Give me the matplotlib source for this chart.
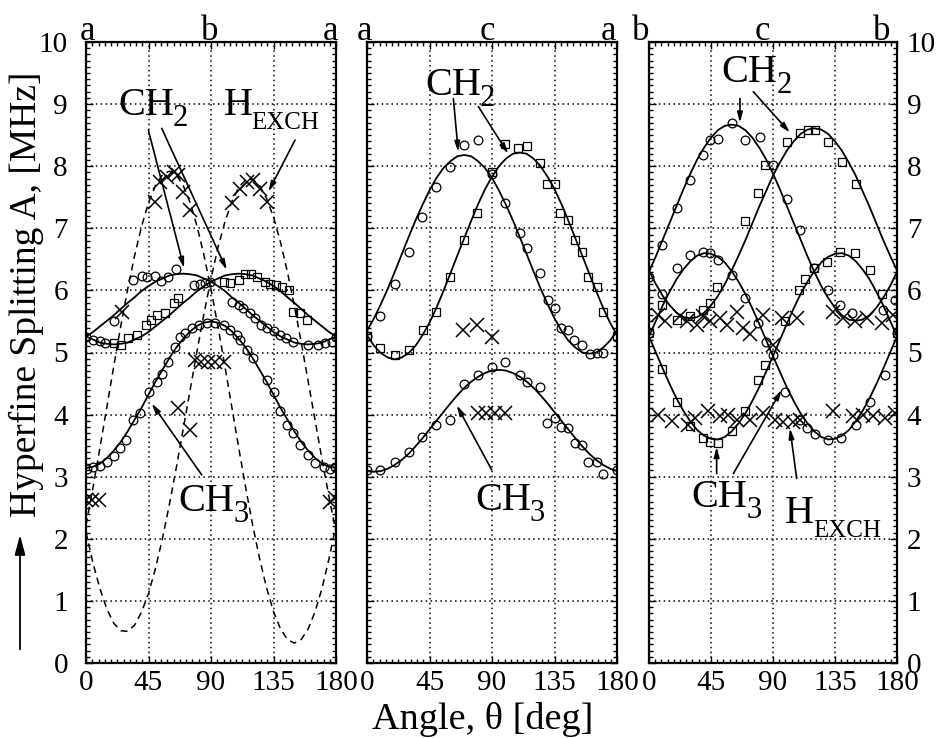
import matplotlib
matplotlib.use("Agg")
import matplotlib.pyplot as plt
from matplotlib.ticker import AutoMinorLocator
from matplotlib.transforms import offset_copy

plt.rcParams['font.family'] = ['Liberation Serif', 'DejaVu Serif']

# ---------------- data ----------------
theta_curve = list(range(0, 181, 5))

# panel 1 (a-b-a)
p1_fit_ch2_a = [5.26, 5.33, 5.42, 5.51, 5.60, 5.70, 5.80, 5.89, 5.99, 6.07, 6.14, 6.19, 6.24, 6.26, 6.27, 6.26, 6.24, 6.19, 6.14,
                6.07, 5.99, 5.89, 5.80, 5.70, 5.60, 5.51, 5.42, 5.33, 5.26, 5.21, 5.16, 5.14, 5.13, 5.14, 5.16, 5.21, 5.26]
p1_fit_ch2_b = [5.26, 5.21, 5.16, 5.14, 5.13, 5.14, 5.16, 5.21, 5.26, 5.33, 5.42, 5.51, 5.60, 5.70, 5.80, 5.89, 5.99, 6.07, 6.14,
                6.19, 6.24, 6.26, 6.27, 6.26, 6.24, 6.19, 6.14, 6.07, 5.99, 5.89, 5.80, 5.70, 5.60, 5.51, 5.42, 5.33, 5.26]
p1_fit_ch3 = [3.14, 3.16, 3.21, 3.30, 3.42, 3.56, 3.73, 3.92, 4.11, 4.32, 4.53, 4.72, 4.91, 5.08, 5.22, 5.34, 5.43, 5.48, 5.50,
              5.48, 5.43, 5.34, 5.22, 5.08, 4.91, 4.72, 4.53, 4.32, 4.11, 3.92, 3.73, 3.56, 3.42, 3.30, 3.21, 3.16, 3.14]
p1_fit_hexch_a = [2.11, 1.61, 1.20, 0.87, 0.64, 0.52, 0.51, 0.61, 0.82, 1.12, 1.52, 2.00, 2.55, 3.14, 3.77, 4.40, 5.03, 5.63, 6.19,
                  6.69, 7.10, 7.43, 7.66, 7.78, 7.79, 7.69, 7.48, 7.18, 6.78, 6.30, 5.75, 5.16, 4.53, 3.90, 3.27, 2.67, 2.11]
p1_fit_hexch_b = [2.22, 2.82, 3.46, 4.12, 4.78, 5.42, 6.02, 6.56, 7.03, 7.41, 7.69, 7.86, 7.92, 7.86, 7.69, 7.41, 7.03, 6.56, 6.02,
                  5.42, 4.78, 4.12, 3.46, 2.82, 2.22, 1.68, 1.21, 0.83, 0.55, 0.38, 0.32, 0.38, 0.55, 0.83, 1.21, 1.68, 2.22]

p1_ch2_circ_theta = [0, 5, 10, 14, 20, 34, 40, 44, 50, 54, 59, 65, 78, 82, 86, 89, 105, 110, 113, 118, 122, 126, 130, 135, 140,
                     144, 149, 160, 167, 172, 177, 180]
p1_ch2_circ_A = [5.25, 5.2, 5.18, 5.15, 5.5, 6.17, 6.23, 6.22, 6.23, 6.15, 6.21, 6.34, 6.09, 6.11, 6.12, 6.14, 5.82, 5.76, 5.71,
                 5.63, 5.55, 5.44, 5.39, 5.34, 5.28, 5.23, 5.17, 5.12, 5.12, 5.15, 5.17, 5.25]
p1_ch3_circ_theta = [0.5, 5, 10, 15, 20, 24.5, 29, 34, 39, 45, 51, 54.5, 59, 64, 68, 71, 76, 81, 87, 93, 99, 104, 108.5, 111, 116,
                     120.5, 130, 135, 140, 144.5, 149, 154, 160, 165, 171, 176, 179.5]
p1_ch3_circ_A = [3.13, 3.15, 3.17, 3.24, 3.33, 3.46, 3.59, 3.91, 4.02, 4.37, 4.53, 4.66, 4.85, 5.09, 5.25, 5.31, 5.39, 5.44, 5.48,
                 5.48, 5.44, 5.36, 5.28, 5.2, 5.04, 4.91, 4.56, 4.37, 4.05, 3.83, 3.7, 3.51, 3.35, 3.22, 3.16, 3.13, 3.16]
p1_sq_theta = [20, 25, 30, 37, 43, 47, 51, 57, 63, 66, 99, 104, 110, 114.5, 119, 123, 129, 132.5, 137, 141, 146, 149, 154, 159]
p1_sq_A = [5.15, 5.12, 5.24, 5.28, 5.44, 5.53, 5.6, 5.63, 5.8, 5.88, 6.14, 6.12, 6.17, 6.27, 6.26, 6.21, 6.14, 6.11, 6.09, 6.06,
           6.0, 5.66, 5.63, 5.52]
p1_x_theta = [0, 4, 9, 26, 49.7, 53.5, 58, 63, 66.4, 70, 75, 66.5, 75, 78.5, 83, 88, 93, 99, 105, 111, 115.7, 120.5, 125, 130,
              176, 179]
p1_x_A = [2.62, 2.62, 2.62, 5.65, 7.43, 7.75, 7.83, 7.9, 7.86, 7.59, 7.29, 4.1, 3.75, 4.88, 4.85, 4.85, 4.85, 4.85, 7.4, 7.64,
          7.75, 7.78, 7.64, 7.43, 2.6, 2.65]

# panel 2 (a-c-a)
p2_fit_ch2_a = [5.35, 5.55, 5.78, 6.03, 6.30, 6.58, 6.86, 7.13, 7.38, 7.61, 7.81, 7.97, 8.08, 8.16, 8.18, 8.16, 8.08, 7.97, 7.81,
                7.61, 7.38, 7.13, 6.86, 6.58, 6.30, 6.03, 5.78, 5.55, 5.35, 5.19, 5.08, 5.00, 4.98, 5.00, 5.08, 5.19, 5.35]
p2_fit_ch2_b = [5.28, 5.11, 4.99, 4.92, 4.89, 4.92, 4.99, 5.11, 5.28, 5.48, 5.72, 5.99, 6.27, 6.56, 6.84, 7.12, 7.39, 7.63, 7.83,
                8.00, 8.12, 8.20, 8.22, 8.20, 8.12, 8.00, 7.83, 7.63, 7.39, 7.12, 6.84, 6.56, 6.27, 5.99, 5.72, 5.48, 5.28]
p2_fit_ch3 = [3.09, 3.08, 3.09, 3.13, 3.19, 3.27, 3.37, 3.49, 3.62, 3.76, 3.90, 4.04, 4.18, 4.31, 4.43, 4.53, 4.61, 4.67, 4.71,
              4.72, 4.71, 4.67, 4.61, 4.53, 4.43, 4.31, 4.18, 4.04, 3.90, 3.76, 3.62, 3.49, 3.37, 3.27, 3.19, 3.13, 3.09]

p2_ch2_circ_theta = [0, 9.4, 20, 30, 39.4, 50, 60, 70, 80, 90, 99.4, 110, 115, 124.6, 130.6, 135.4, 140, 145, 149, 154.6,
                     160.6, 165.4, 170.2, 180]
p2_ch2_circ_A = [5.27, 5.58, 6.11, 6.62, 7.19, 7.67, 7.99, 8.34, 8.42, 7.88, 7.40, 6.92, 6.68, 6.28, 5.85, 5.71, 5.39, 5.36,
                 5.2, 5.12, 4.98, 4.99, 5.0, 5.25]
p2_sq_theta = [0, 9.4, 20, 30, 40, 50, 60, 70, 79, 90, 99.4, 109, 115, 124.6, 129.4, 135.4, 139, 145, 150, 154.6, 159.4, 165.4,
               170, 180]
p2_sq_A = [5.27, 5.07, 4.96, 5.04, 5.36, 5.66, 6.22, 6.81, 7.24, 7.91, 8.36, 8.3, 8.33, 8.05, 7.72, 7.72, 7.24, 7.13, 6.81, 6.62,
           6.22, 6.06, 5.66, 5.27]
p2_ch3_circ_theta = [0, 9.4, 20, 30, 39.4, 50, 60, 70, 80, 90, 99.4, 110, 115, 124.6, 129.4, 135.4, 140, 145, 150, 154.6, 159.4,
                     165.4, 170, 180]
p2_ch3_circ_A = [3.11, 3.10, 3.24, 3.4, 3.64, 3.83, 3.91, 4.5, 4.64, 4.76, 4.84, 4.64, 4.53, 4.45, 3.86, 3.94, 3.8, 3.78, 3.54,
                 3.51, 3.24, 3.23, 3.04, 3.11]
p2_x_theta = [69.4, 79, 90, 80, 86, 92, 99]
p2_x_A = [5.36, 5.44, 5.25, 4.02, 4.02, 4.02, 4.02]

# panel 3 (b-c-b)
p3_fit_ch2_a = [6.30, 6.55, 6.82, 7.09, 7.36, 7.63, 7.88, 8.11, 8.30, 8.46, 8.58, 8.65, 8.67, 8.65, 8.58, 8.46, 8.30, 8.11, 7.88,
                7.63, 7.36, 7.09, 6.82, 6.55, 6.30, 6.07, 5.88, 5.72, 5.60, 5.53, 5.51, 5.53, 5.60, 5.72, 5.88, 6.07, 6.30]
p3_fit_ch2_b = [6.32, 6.10, 5.91, 5.76, 5.64, 5.57, 5.55, 5.57, 5.64, 5.76, 5.91, 6.10, 6.32, 6.56, 6.81, 7.08, 7.35, 7.60, 7.85,
                8.06, 8.25, 8.40, 8.52, 8.59, 8.61, 8.59, 8.52, 8.40, 8.25, 8.06, 7.85, 7.60, 7.35, 7.08, 6.81, 6.56, 6.32]
p3_fit_ch3_a = [5.26, 5.51, 5.76, 5.98, 6.18, 6.34, 6.47, 6.56, 6.60, 6.59, 6.54, 6.45, 6.31, 6.14, 5.94, 5.71, 5.46, 5.20, 4.94,
                4.69, 4.44, 4.22, 4.02, 3.86, 3.73, 3.64, 3.60, 3.61, 3.66, 3.75, 3.89, 4.06, 4.26, 4.49, 4.74, 5.00, 5.26]
p3_fit_ch3_b = [5.26, 5.00, 4.74, 4.49, 4.26, 4.06, 3.89, 3.75, 3.66, 3.61, 3.60, 3.64, 3.73, 3.86, 4.02, 4.22, 4.44, 4.69, 4.94,
                5.20, 5.46, 5.71, 5.94, 6.14, 6.31, 6.45, 6.54, 6.59, 6.60, 6.56, 6.47, 6.34, 6.18, 5.98, 5.76, 5.51, 5.26]

p3_ch2_circ_theta = [0, 9.2, 20, 30, 39.4, 44, 50, 60.6, 69.6, 80.5, 90, 100, 109.6, 119.4, 130, 138.6, 147, 170, 178.5]
p3_ch2_circ_A = [6.22, 6.73, 7.32, 7.78, 8.18, 8.42, 8.43, 8.69, 8.42, 8.47, 8.02, 7.47, 6.97, 6.36, 6.01, 5.76, 5.63, 5.68, 5.85]
p3_ch2_sq_theta = [9.2, 20, 30, 39.4, 44, 49, 69.6, 79.3, 84, 100, 109.6, 115.6, 120.5, 130, 139.8, 150.6]
p3_ch2_sq_A = [5.76, 5.52, 5.58, 5.68, 5.79, 6.06, 7.11, 7.57, 8.02, 8.39, 8.53, 8.59, 8.59, 8.39, 8.07, 7.72]
p3_ch3_circ_theta = [0, 9.2, 20, 30, 39.4, 44, 50, 60, 69.6, 79.3, 85, 90, 98.7, 109.6, 114.4, 120.5, 130, 139.7, 150.6, 160.3,
                     171, 180]
p3_ch3_circ_A = [5.31, 5.95, 6.36, 6.57, 6.62, 6.6, 6.49, 6.25, 5.87, 5.47, 5.17, 4.96, 4.37, 3.92, 3.78, 3.69, 3.59, 3.62, 3.83,
                 4.21, 4.64, 5.31]
p3_ch3_sq_theta = [0, 9.2, 20, 30, 39.4, 44, 50, 60, 69.6, 79.3, 84, 98.9, 108.6, 113.4, 119.4, 129, 138.8, 149.7, 160.4, 169.4,
                   180]
p3_ch3_sq_A = [5.31, 4.74, 4.21, 3.81, 3.62, 3.56, 3.55, 3.73, 4.05, 4.56, 4.8, 5.5, 6.01, 6.19, 6.36, 6.46, 6.62, 6.6, 6.33, 5.95,
               5.31]
p3_x_hi_theta = [6.8, 11.6, 22.5, 27.4, 34.6, 39.4, 44.3, 51.5, 56.4, 63.6, 68.5, 73.3, 83, 90, 96.3, 107.2, 133.8, 141, 149.5,
                 158, 168.9, 177.3]
p3_x_hi_A = [5.6, 5.5, 5.58, 5.5, 5.45, 5.58, 5.5, 5.55, 5.45, 5.65, 5.4, 5.3, 5.6, 5.12, 5.55, 5.55, 5.65, 5.55, 5.5, 5.55, 5.48,
             5.6]
p3_x_lo_theta = [6.8, 16.4, 28.5, 33.4, 43.1, 51.5, 57.6, 63.6, 73.3, 83, 91.5, 97.5, 104.7, 109.6, 133.8, 148.3, 155.5, 162.8,
                 171.3, 178.5]
p3_x_lo_A = [3.99, 3.89, 3.83, 3.94, 4.05, 3.97, 4.0, 3.92, 3.92, 4.02, 3.92, 3.88, 3.88, 3.92, 4.05, 3.97, 4.0, 3.97, 3.95, 4.02]

x_ticks = [0, 45, 90, 135, 180]
y_ticks = list(range(0, 11))
top_letters = [["a", "b", "a"], ["a", "c", "a"], ["b", "c", "b"]]

# ---------------- figure ----------------
W, H = 942, 738
fig = plt.figure(figsize=(W / 100, H / 100), dpi=100)


def px_axes(l, r, t, b):
    return fig.add_axes([l / W, 1 - b / H, (r - l) / W, (b - t) / H])


axes = [px_axes(86, 336, 42, 663), px_axes(367, 617, 42, 663), px_axes(649, 897, 42, 663)]

for i, ax in enumerate(axes):
    ax.set_xlim(0, 180)
    ax.set_ylim(0, 10)
    ax.set_xticks(x_ticks)
    ax.set_yticks(y_ticks)
    ax.xaxis.set_minor_locator(AutoMinorLocator(10))
    ax.yaxis.set_minor_locator(AutoMinorLocator(10))
    ax.grid(True, which='major', color='k', linestyle=(0, (1, 2.2)), linewidth=1.1)
    ax.tick_params(which='both', direction='in', top=True, right=True, bottom=True, left=True, width=1.0,
                   colors='k', labelsize=21)
    ax.tick_params(which='major', length=5)
    ax.tick_params(which='minor', length=3)
    ax.tick_params(axis='x', pad=5)
    ax.tick_params(axis='y', labelleft=(i == 0), labelright=(i == 2))
    ax.tick_params(axis='y', which='major', pad=13 if i == 0 else 7)
    for s in ax.spines.values():
        s.set_linewidth(1.6)
    ax.set_axisbelow(True)

ms_c, ms_s, ms_x = 6.3, 5.8, 9.5
mk = dict(linestyle='none', mfc='none', mec='k', color='k', zorder=4)


def fitline(ax, vals, dashed=False):
    if dashed:
        ax.plot(theta_curve, vals, color='k', lw=1.1, linestyle=(0, (4.5, 3.2)), zorder=3)
    else:
        ax.plot(theta_curve, vals, color='k', lw=1.3, zorder=3)


def circles(ax, t, v):
    ax.plot(t, v, marker='o', ms=ms_c, mew=0.9, **mk)


def squares(ax, t, v):
    ax.plot(t, v, marker='s', ms=ms_s, mew=0.9, **mk)


def crosses(ax, t, v):
    ax.plot(t, v, marker='x', ms=ms_x, mew=1.1, **mk)


# panel 1
ax = axes[0]
for c in (p1_fit_ch2_a, p1_fit_ch2_b, p1_fit_ch3):
    fitline(ax, c)
for c in (p1_fit_hexch_a, p1_fit_hexch_b):
    fitline(ax, c, dashed=True)
circles(ax, p1_ch2_circ_theta, p1_ch2_circ_A)
circles(ax, p1_ch3_circ_theta, p1_ch3_circ_A)
squares(ax, p1_sq_theta, p1_sq_A)
crosses(ax, p1_x_theta, p1_x_A)

# panel 2
ax = axes[1]
for c in (p2_fit_ch2_a, p2_fit_ch2_b, p2_fit_ch3):
    fitline(ax, c)
circles(ax, p2_ch2_circ_theta, p2_ch2_circ_A)
circles(ax, p2_ch3_circ_theta, p2_ch3_circ_A)
squares(ax, p2_sq_theta, p2_sq_A)
crosses(ax, p2_x_theta, p2_x_A)

# panel 3
ax = axes[2]
for c in (p3_fit_ch2_a, p3_fit_ch2_b, p3_fit_ch3_a, p3_fit_ch3_b):
    fitline(ax, c)
circles(ax, p3_ch2_circ_theta, p3_ch2_circ_A)
circles(ax, p3_ch3_circ_theta, p3_ch3_circ_A)
squares(ax, p3_ch2_sq_theta, p3_ch2_sq_A)
squares(ax, p3_ch3_sq_theta, p3_ch3_sq_A)
crosses(ax, p3_x_hi_theta, p3_x_hi_A)
crosses(ax, p3_x_lo_theta, p3_x_lo_A)

# ---------------- annotations ----------------
LBL = 29
renderer = fig.canvas.get_renderer()


def label(ax, x, y, main, sub, subsize, drop):
    t = ax.text(x, y, main, fontsize=LBL, ha='left', va='baseline', zorder=6)
    w = t.get_window_extent(renderer).width
    tr = offset_copy(ax.transData, fig=fig, x=w - 1, y=-drop, units='dots')
    ax.text(x, y, sub, fontsize=subsize, ha='left', va='baseline', transform=tr, zorder=6)


def chem(ax, x, y, digit):
    label(ax, x, y, 'CH', digit, 22, 11)


def hexch(ax, x, y):
    label(ax, x, y, 'H', 'EXCH', 18, 14)


def arrow(ax, tail, head):
    ax.annotate('', xy=head, xytext=tail,
                arrowprops=dict(arrowstyle='-|>,head_length=0.6,head_width=0.16', lw=1.2, color='k',
                                shrinkA=0, shrinkB=0), zorder=6)


ax = axes[0]
chem(ax, 23, 8.82, '2')
hexch(ax, 99, 8.82)
chem(ax, 66.5, 2.44, '3')
arrow(ax, (44.9, 8.58), (70.6, 6.36))
arrow(ax, (54.5, 8.61), (101.3, 6.33))
arrow(ax, (150.5, 8.42), (131.3, 7.59))
arrow(ax, (83.3, 3.03), (47.3, 4.18))

ax = axes[1]
chem(ax, 41.8, 9.15, '2')
chem(ax, 77.8, 2.46, '3')
arrow(ax, (62.2, 9.09), (65.7, 8.23))
arrow(ax, (80.2, 8.96), (101.7, 8.20))
arrow(ax, (89.8, 3.11), (64.6, 4.15))

ax = axes[2]
chem(ax, 52.7, 9.36, '2')
chem(ax, 31, 2.52, '3')
hexch(ax, 98.7, 2.26)
arrow(ax, (66, 9.09), (66, 8.70))
arrow(ax, (75.7, 9.2), (102.3, 8.54))
arrow(ax, (49.1, 3.05), (49.1, 3.48))
arrow(ax, (61.2, 3.05), (96.3, 4.40))
arrow(ax, (107.2, 2.97), (102.3, 3.78))

# crystal-axis letters along the top
letter_x = [[1, 89, 176], [-2, 87, 174], [-6, 82, 169]]
for ax, letters, xs in zip(axes, top_letters, letter_x):
    for L, x in zip(letters, xs):
        ax.text(x, 10.04, L, fontsize=25, ha='center', va='baseline', clip_on=False, zorder=7)

# axis titles
fig.text(483 / W, 1 - 729 / H, 'Angle, θ [deg]', fontsize=27.5, ha='center', va='baseline')
fig.text(26 / W, 1 - 294 / H, 'Hyperfine Splitting A, [MHz]', fontsize=27, rotation=90,
         ha='center', va='center')
fig.patches.append(matplotlib.patches.FancyArrowPatch(
    (20 / W, 1 - 652 / H), (20 / W, 1 - 532 / H), transform=fig.transFigure,
    arrowstyle='-|>,head_length=0.6,head_width=0.16', lw=1.3, color='k', mutation_scale=20))

fig.savefig('out.png', dpi=100)
